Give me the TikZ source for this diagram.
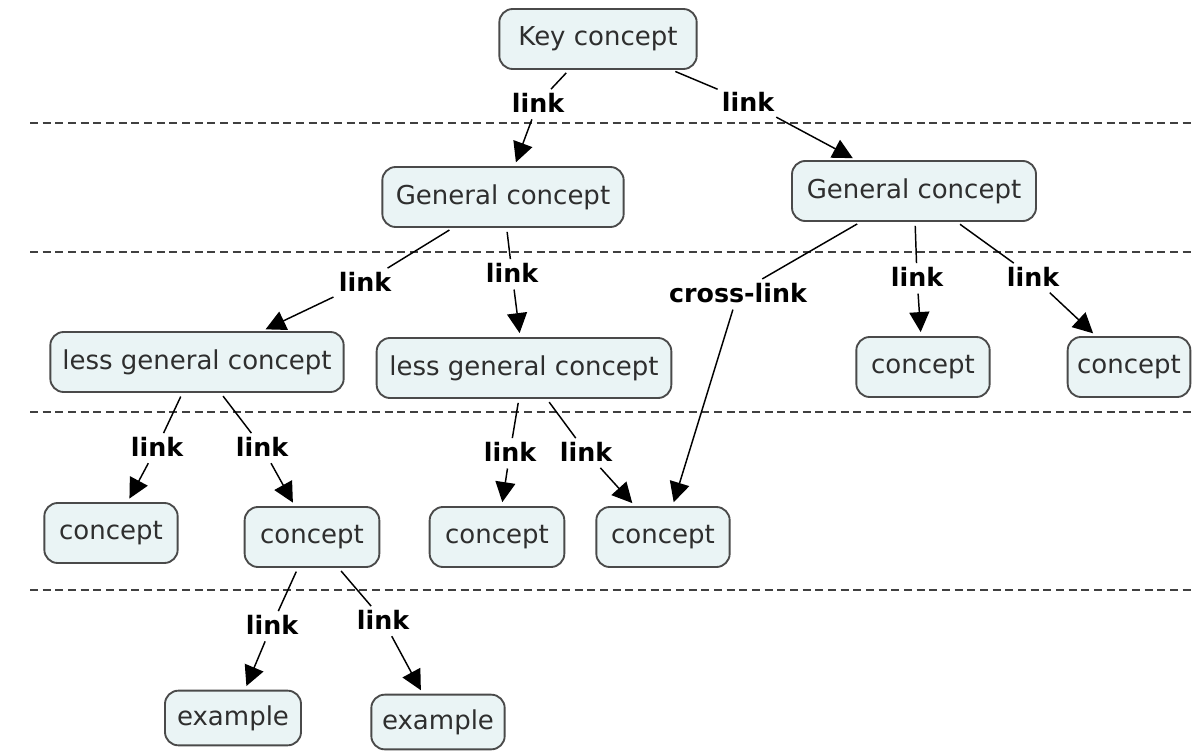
\documentclass[tikz,border=0pt]{standalone}
\usepackage{fontspec}
\setmainfont{DejaVu Sans}
\usetikzlibrary{arrows.meta}
\definecolor{boxfill}{HTML}{EAF4F5}
\definecolor{boxline}{HTML}{4A4A4A}
\tikzset{
  concept/.style={draw=boxline,line width=1.4pt,fill=boxfill,rounded corners=10pt,
    minimum height=45pt,inner xsep=3pt,font=\fontsize{19.5}{22}\selectfont,text=black!82},
  linklabel/.style={font=\bfseries\fontsize{19}{22}\selectfont,inner sep=3pt},
  plain/.style={line width=1.1pt,shorten <=3pt},
  tip/.style={line width=1.1pt,-{Triangle[length=15pt,width=15pt]},shorten <=2pt,shorten >=3pt},
  level/.style={dash pattern=on 6pt off 3.5pt,line width=1pt,black!75}
}
\begin{document}
\begin{tikzpicture}[x=0.75pt,y=-0.75pt]
\useasboundingbox (0,0) rectangle (1195,752);
% level separators
\foreach \yy in {123,252,412,590}
  \draw[level] (30,\yy) -- (1195,\yy);
% concepts
\node[concept,minimum width=148pt] (key) at (598,39) {Key concept};
\node[concept,minimum width=181pt] (genA) at (503,197) {General concept};
\node[concept,minimum width=183pt] (genB) at (914,191) {General concept};
\node[concept,minimum width=220pt] (lessA) at (197,362) {less general concept};
\node[concept,minimum width=221pt] (lessB) at (524,368) {less general concept};
\node[concept,minimum width=100pt] (conB1) at (923,367) {concept};
\node[concept,minimum width=92pt] (conB2) at (1129,367) {concept};
\node[concept,minimum width=100pt] (conA1) at (111,533) {concept};
\node[concept,minimum width=101pt] (conA2) at (312,537) {concept};
\node[concept,minimum width=101pt] (conM1) at (497,537) {concept};
\node[concept,minimum width=100pt] (conM2) at (663,537) {concept};
\node[concept,minimum width=102pt,minimum height=41pt] (exA) at (233,718) {example};
\node[concept,minimum width=100pt,minimum height=41pt] (exB) at (438,722) {example};
% link labels
\node[linklabel] (lkA) at (538,103) {link};
\node[linklabel] (lkB) at (748,102) {link};
\node[linklabel] (lkC) at (365,282) {link};
\node[linklabel] (lkD) at (512,273) {link};
\node[linklabel] (cross) at (738,293) {cross-link};
\node[linklabel] (lkE) at (917,277) {link};
\node[linklabel] (lkF) at (1033,277) {link};
\node[linklabel] (lkG) at (157,447) {link};
\node[linklabel] (lkH) at (262,447) {link};
\node[linklabel] (lkI) at (510,452) {link};
\node[linklabel] (lkJ) at (586,452) {link};
\node[linklabel] (lkK) at (272,625) {link};
\node[linklabel] (lkL) at (383,620) {link};
% connectors
\draw[plain] (key) -- (lkA);   \draw[tip] (lkA) -- (genA);
\draw[plain] (key) -- (lkB);   \draw[tip] (lkB) -- (genB);
\draw[plain] (genA) -- (lkC);  \draw[tip] (lkC) -- (lessA);
\draw[plain] (genA) -- (lkD);  \draw[tip] (lkD) -- (lessB);
\draw[plain] (genB) -- (cross); \draw[tip] (cross) -- (conM2);
\draw[plain] (genB) -- (lkE);  \draw[tip] (lkE) -- (conB1);
\draw[plain] (genB) -- (lkF);  \draw[tip] (lkF) -- (conB2);
\draw[plain] (lessA) -- (lkG); \draw[tip] (lkG) -- (conA1);
\draw[plain] (lessA) -- (lkH); \draw[tip] (lkH) -- (conA2);
\draw[plain] (lessB) -- (lkI); \draw[tip] (lkI) -- (conM1);
\draw[plain] (lessB) -- (lkJ); \draw[tip] (lkJ) -- (conM2);
\draw[plain] (conA2) -- (lkK); \draw[tip] (lkK) -- (exA);
\draw[plain] (conA2) -- (lkL); \draw[tip] (lkL) -- (exB);
\end{tikzpicture}
\end{document}
